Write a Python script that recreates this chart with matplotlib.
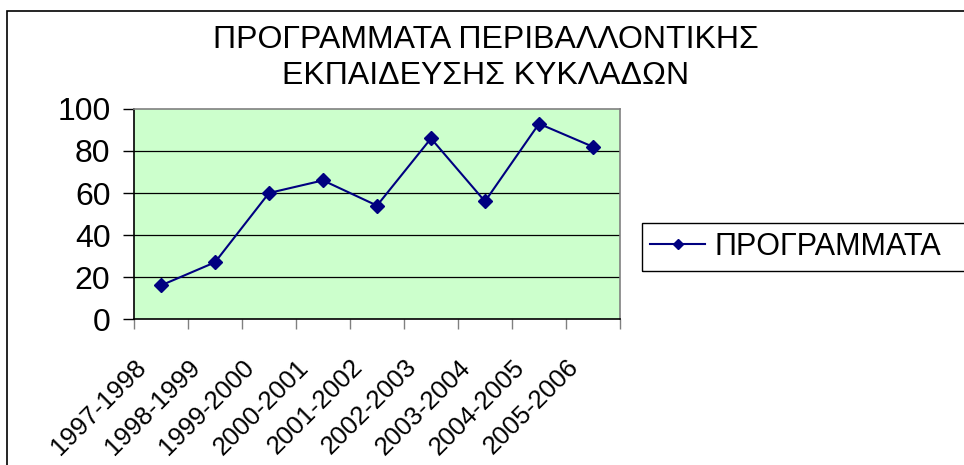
import matplotlib
matplotlib.use("Agg")
import matplotlib.pyplot as plt
from matplotlib.patches import Rectangle
from matplotlib.transforms import blended_transform_factory, ScaledTranslation

plt.rcParams['font.family'] = ['Liberation Sans', 'DejaVu Sans']

categories = ["1997-1998", "1998-1999", "1999-2000", "2000-2001", "2001-2002",
              "2002-2003", "2003-2004", "2004-2005", "2005-2006"]
values = [16, 27, 60, 66, 54, 86, 56, 93, 82]
series_name = "ΠΡΟΓΡΑΜΜΑΤΑ"
title = "ΠΡΟΓΡΑΜΜΑΤΑ ΠΕΡΙΒΑΛΛΟΝΤΙΚΗΣ\nΕΚΠΑΙΔΕΥΣΗΣ ΚΥΚΛΑΔΩΝ"
yticks = [0, 20, 40, 60, 80, 100]

W, H = 964, 465
fig = plt.figure(figsize=(W / 100, H / 100), dpi=100)
fig.patch.set_facecolor("white")

def fx(px):
    return px / W

def fy(py):
    return 1 - py / H

# outer chart frame
fig.add_artist(Rectangle((fx(7), -0.1), 1.2, fy(11) + 0.1, transform=fig.transFigure,
                         fill=False, edgecolor="black", linewidth=1.2))

ax = fig.add_axes([fx(134), fy(319), fx(620) - fx(134), fy(109) - fy(319)])
ax.set_facecolor("#ccffcc")

x = list(range(len(categories)))
line, = ax.plot(x, values, color="#000080", linewidth=1.5, marker="D", markersize=7,
                markerfacecolor="#000080", markeredgecolor="#000080", label=series_name,
                zorder=3)

ax.set_xlim(-0.5, len(categories) - 0.5)
ax.set_ylim(0, 100)
ax.set_yticks(yticks)
ax.set_yticklabels([str(v) for v in yticks], fontsize=23)
for v in yticks[1:-1]:
    ax.axhline(v, color="black", linewidth=0.9, zorder=1)

ax.set_xticks([i - 0.5 for i in range(len(categories) + 1)])
ax.set_xticklabels([])
ax.tick_params(axis="x", length=7, width=1, color="#808080")
ax.tick_params(axis="y", length=8, width=1, color="black", pad=9)

# rotated category labels
trans = blended_transform_factory(ax.transData, ax.transAxes) + \
    ScaledTranslation(-27 / 100, -36 / 100, fig.dpi_scale_trans)
for i, cat in enumerate(categories):
    ax.text(i, 0, cat, transform=trans, rotation=45, ha="right", va="top",
            rotation_mode="anchor", fontsize=18.5, clip_on=False)

ax.spines["left"].set_color("black")
ax.spines["bottom"].set_color("black")
ax.spines["top"].set_color("#808080")
ax.spines["right"].set_color("#808080")
for s in ax.spines.values():
    s.set_linewidth(1.2)

fig.text(fx(486), fy(58), title, ha="center", va="center", fontsize=23,
         linespacing=1.3)

# legend
fig.add_artist(Rectangle((fx(642), fy(271)), 1.0, fy(223) - fy(271), transform=fig.transFigure,
                         fill=False, edgecolor="black", linewidth=1.0))
leg = fig.legend(handles=[line], labels=[series_name], loc="center left",
                 bbox_to_anchor=(fx(644), fy(247)),
                 fontsize=22, frameon=False,
                 handlelength=1.8, handletextpad=0.3, borderpad=0.2, borderaxespad=0,
                 markerscale=0.7)

fig.savefig("out.png", dpi=100)
